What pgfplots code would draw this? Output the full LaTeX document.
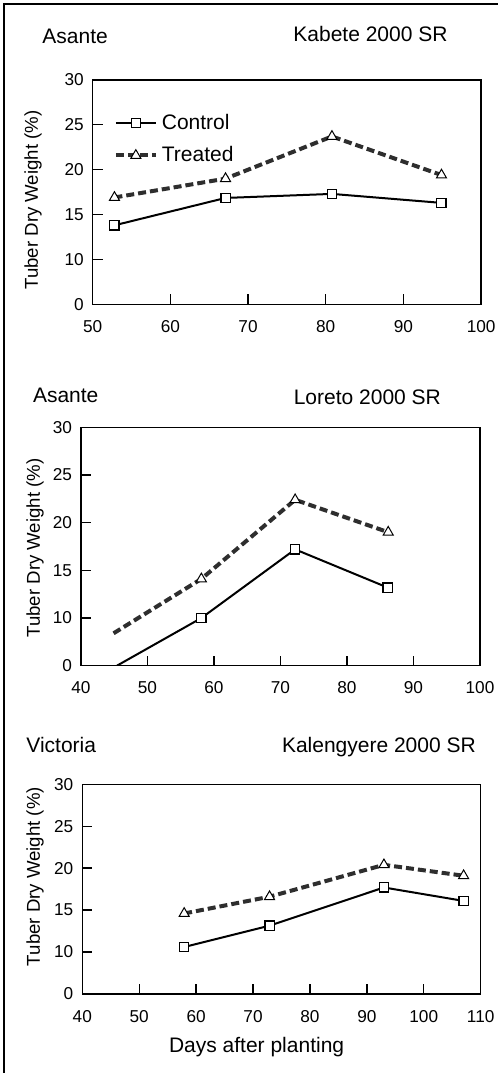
\documentclass[border=0pt]{standalone}
\usepackage{fontspec}
\setmainfont{Liberation Sans}
\usepackage{pgfplots}
\pgfplotsset{compat=1.18}

\pgfplotsset{
  tdw/.style={
    scale only axis,
    anchor=south west,
    ymin=5, ymax=30,
    ytick={5,10,15,20,25,30},
    yticklabels={0,10,15,20,25,30},
    tick align=inside,
    xtick pos=bottom, ytick pos=left,
    major tick length=5pt,
    axis line style={line width=0.7pt},
    tick style={line width=0.7pt, black},
    tick label style={font=\fontsize{8.6}{9}\selectfont},
    /pgf/number format/assume math mode=true,
    xticklabel style={yshift=-4.5pt},
    yticklabel style={xshift=-1pt},
    clip=true,
  },
  ctrl/.style={black, line width=1pt, mark=square*, mark size=2.3pt,
    mark options={solid, fill=white, line width=0.6pt}},
  trt/.style={black!82, line width=2pt, dash pattern=on 4pt off 2pt,
    mark=triangle*, mark size=2.9pt,
    mark options={solid, fill=white, draw=black, line width=0.5pt}},
}

\begin{document}
\begin{tikzpicture}
\useasboundingbox (0pt,0pt) rectangle (249pt,-536.5pt);
\draw[line width=0.8pt] (2pt,-540pt) -- (2pt,-2pt) -- (252pt,-2pt);

% panel 1: Kabete
\begin{axis}[tdw,
  at={(46.35pt,-152.15pt)}, width=194.2pt, height=112.2pt,
  xmin=50, xmax=100, xtick={50,60,...,100},
  legend style={at={(0.038,0.885)}, anchor=north west, draw=none, fill=none,
    font=\fontsize{10.5}{12}\selectfont, row sep=3pt,
    /tikz/every even column/.append style={column sep=2pt}},
  legend cell align=left,
  legend image code/.code={\draw[mark repeat=2, mark phase=2, #1]
    plot coordinates {(0pt,0pt) (10pt,0pt) (20pt,0pt)};},
]
\addplot[ctrl] coordinates {(52.8,13.8) (67.1,16.85) (80.8,17.3) (94.9,16.3)};
\addlegendentry{Control}
\addplot[trt] coordinates {(52.8,16.9) (67.1,19.0) (80.8,23.7) (94.9,19.4)};
\addlegendentry{Treated}
\end{axis}

% panel 2: Loreto
\begin{axis}[tdw,
  at={(40.5pt,-332.85pt)}, width=199.5pt, height=119.2pt,
  xmin=40, xmax=100, xtick={40,50,...,100},
]
\addplot[ctrl, mark indices={2,3,4}] coordinates {(45.4,5) (58.1,10.0) (72.2,17.2) (86.1,13.2)};
\addplot[trt, mark indices={2,3,4}] coordinates {(44.9,8.4) (58.1,14.1) (72.2,22.4) (86.2,19.0)};
\end{axis}

% panel 3: Kalengyere
\begin{axis}[tdw,
  at={(41.15pt,-497pt)}, width=199.2pt, height=104.85pt,
  xmin=40, xmax=110, xtick={40,50,...,110},
]
\addplot[ctrl] coordinates {(57.9,10.6) (72.9,13.15) (93.0,17.7) (107.0,16.1)};
\addplot[trt] coordinates {(57.9,14.6) (72.9,16.6) (93.0,20.4) (107.0,19.1)};
\end{axis}

\begin{scope}[every node/.style={inner sep=0pt, font=\fontsize{10.5}{12}\selectfont}]
\node[anchor=base west] at (21pt,-21.7pt) {Asante};
\node[anchor=base west] at (146.5pt,-20.8pt) {Kabete 2000 SR};
\node[anchor=base west] at (16.3pt,-201.3pt) {Asante};
\node[anchor=base west] at (146.7pt,-202.2pt) {Loreto 2000 SR};
\node[anchor=base west] at (13pt,-376.3pt) {Victoria};
\node[anchor=base west] at (140.8pt,-376.3pt) {Kalengyere 2000 SR};
\node at (128.3pt,-523.3pt) {Days after planting};
\end{scope}

\begin{scope}[every node/.style={inner sep=0pt, rotate=90, font=\fontsize{9.3}{11}\selectfont}]
\node at (16.5pt,-100pt) {Tuber Dry Weight (\%)};
\node at (17.5pt,-274pt) {Tuber Dry Weight (\%)};
\node at (17.5pt,-438.3pt) {Tuber Dry Weight (\%)};
\end{scope}
\end{tikzpicture}
\end{document}
